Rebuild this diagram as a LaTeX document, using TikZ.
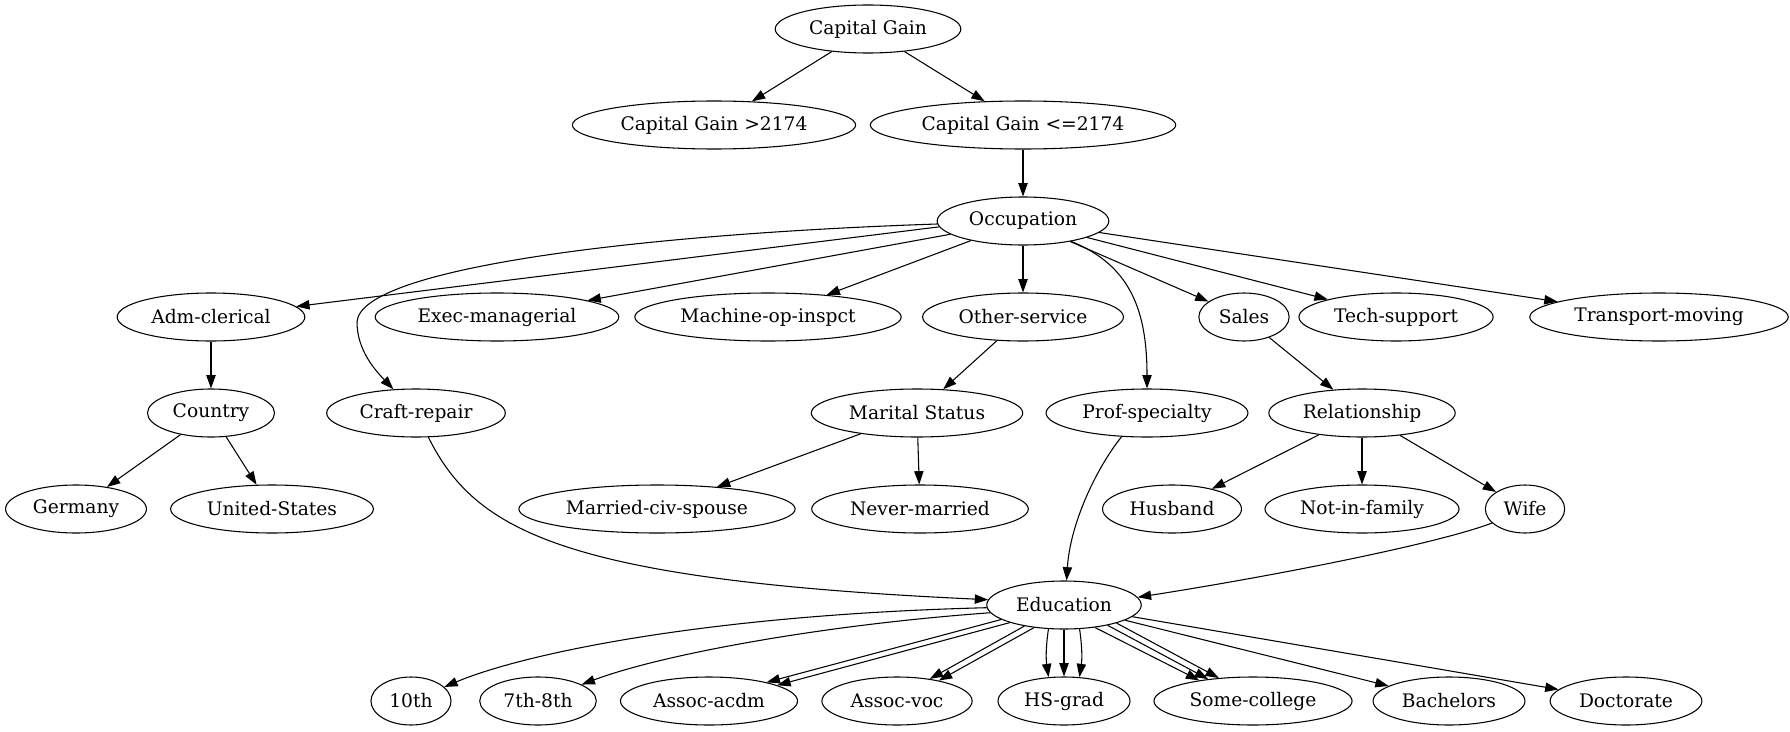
\documentclass[tikz,border=0pt]{standalone}
\usepackage{fontspec}
\setmainfont{DejaVu Serif}
\usetikzlibrary{shapes.geometric,arrows.meta}

\begin{document}
\begin{tikzpicture}[x=0.75pt,y=-0.75pt,
    ell/.style={draw,ellipse,line width=0.8pt,inner xsep=5pt,inner ysep=1pt,minimum height=36pt,font=\fontsize{14pt}{16pt}\selectfont},
    arr/.style={-{Triangle[length=10pt,width=7pt]},line width=0.8pt}]

  \useasboundingbox (0,0) rectangle (1790,731);

    \node[ell] (cg) at (868,29) {Capital Gain};
    \node[ell] (cgA) at (714,125) {Capital Gain >2174};
    \node[ell] (cgB) at (1023,125) {Capital Gain <=2174};
    \node[ell] (occ) at (1023,221) {Occupation};

    %%%%%%%%%%OCCUPATION%%%%%%%%%%%%%%%%
    \node[ell] (adm) at (211,317) {Adm-clerical};
    \node[ell] (exe) at (497,317) {Exec-managerial};
    \node[ell] (mop) at (768,317) {Machine-op-inspct};
    \node[ell] (oth) at (1023,317) {Other-service};
    \node[ell] (sal) at (1244,317) {Sales};
    \node[ell] (tec) at (1396,317) {Tech-support};
    \node[ell] (trm) at (1659,317) {Transport-moving};

    \node[ell] (cty) at (211,413) {Country};
    \node[ell] (cra) at (416,413) {Craft-repair};
    \node[ell] (mar) at (917,413) {Marital Status};
    \node[ell] (pro) at (1147,413) {Prof-specialty};
    \node[ell] (rel) at (1362,413) {Relationship};

    \node[ell] (ger) at (76,509) {Germany};
    \node[ell] (usa) at (272,509) {United-States};
    \node[ell] (mcs) at (657,509) {Married-civ-spouse};
    \node[ell] (nev) at (920,509) {Never-married};
    \node[ell] (hus) at (1172,509) {Husband};
    \node[ell] (nif) at (1362,509) {Not-in-family};
    \node[ell] (wif) at (1525,509) {Wife};

    %%%%%%%%%%EDUCATION%%%%%%%%%%%%%%%%
    \node[ell] (edu) at (1064,605) {Education};

    \node[ell] (e10) at (411,701) {10th};
    \node[ell] (e78) at (538,701) {7th-8th};
    \node[ell] (acd) at (709,701) {Assoc-acdm};
    \node[ell] (voc) at (897,701) {Assoc-voc};
    \node[ell] (hsg) at (1064,701) {HS-grad};
    \node[ell] (som) at (1253,701) {Some-college};
    \node[ell] (bac) at (1449,701) {Bachelors};
    \node[ell] (doc) at (1626,701) {Doctorate};

    \draw[arr] (cg) -- (cgA);
    \draw[arr] (cg) -- (cgB);
    \draw[arr] (cgB) -- (occ);

    \draw[arr] (occ.184) -- (adm);
    \draw[arr] (occ.182) .. controls (640,234) and (360,268) .. (357,322) .. controls (357,350) and (375,370) .. (cra);
    \draw[arr] (occ) -- (exe);
    \draw[arr] (occ) -- (mop);
    \draw[arr] (occ) -- (oth);
    \draw[arr] (occ.-23) .. controls (1130,265) and (1147,310) .. (pro);
    \draw[arr] (occ) -- (sal);
    \draw[arr] (occ) -- (tec);
    \draw[arr] (occ) -- (trm);

    \draw[arr] (adm) -- (cty);
    \draw[arr] (cty) -- (ger);
    \draw[arr] (cty) -- (usa);
    \draw[arr] (oth) -- (mar);
    \draw[arr] (mar) -- (mcs);
    \draw[arr] (mar) -- (nev);
    \draw[arr] (sal) -- (rel);
    \draw[arr] (rel) -- (hus);
    \draw[arr] (rel) -- (nif);
    \draw[arr] (rel) -- (wif);

    \draw[arr] (cra.-63) .. controls (475,530) and (560,580) .. (edu.176);
    \draw[arr] (pro.-137) .. controls (1095,470) and (1070,525) .. (edu.84);
    \draw[arr] (wif.-157) .. controls (1440,543) and (1280,575) .. (edu.6);

    \draw[arr] (edu.182) .. controls (700,615) and (520,655) .. (e10);
    \draw[arr] (edu.186) .. controls (820,625) and (660,655) .. (e78);
    \draw[arr] (edu.-167) -- (acd.18);
    \draw[arr] (edu.-162) -- (acd.13);
    \draw[arr] (edu.-152) -- (voc.34);
    \draw[arr] (edu.-143) -- (voc.26);
    \draw[arr] (edu.-123) to[bend right=8] (hsg.123);
    \draw[arr] (edu) -- (hsg);
    \draw[arr] (edu.-57) to[bend left=8] (hsg.57);
    \draw[arr] (edu.-36) -- (som.159);
    \draw[arr] (edu.-25) -- (som.154);
    \draw[arr] (edu.-19) -- (som.146);
    \draw[arr] (edu) -- (bac);
    \draw[arr] (edu) -- (doc);

  \end{tikzpicture}
\end{document}
